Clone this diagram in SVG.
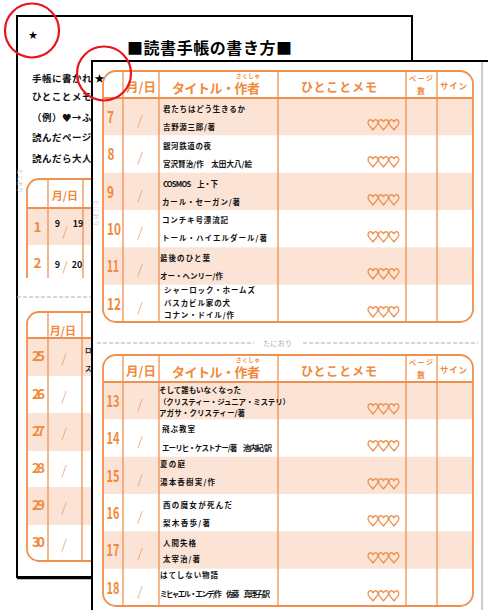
<svg xmlns="http://www.w3.org/2000/svg" width="488" height="610" viewBox="0 0 488 610">
<style>
text{font-family:"Noto Sans CJK JP","Noto Sans",sans-serif}
.pg{fill:#fff;stroke:#000;stroke-width:2}
.ob{fill:none;stroke:#F0904F;stroke-width:1.8}
.ln{fill:none;stroke:#F0904F;stroke-width:1.3}
.sh{fill:#FBE4D6}
.oh{fill:#F08A3C;font-weight:bold}
.num{fill:#F08A3C;font-size:16px;font-weight:bold}
.bnum{fill:#F08A3C;font-size:13.5px;font-weight:bold}
.sl{fill:#F08A3C;font-size:13px;font-weight:300;text-anchor:middle}
.bt{fill:#111;font-weight:bold;font-size:7.5px}
.hr{fill:#F08A3C;stroke:#F08A3C;stroke-width:0.5;font-size:12px}
.red{fill:none;stroke:#E8141C;stroke-width:2.2}
.dash{stroke:#b0b0b0;stroke-width:1;stroke-dasharray:4 2}
.fold{fill:#c4c4c4;font-size:5.5px}
.body{fill:#111;font-weight:bold;font-size:9.5px;letter-spacing:0.5px}
</style>

<g id="back-page">
  <rect class="pg" x="17" y="16" width="395" height="561"/>
  <line x1="17" y1="578.5" x2="92" y2="578.5" stroke="#000" stroke-width="1.5"/>
  <text x="33" y="37.5" font-size="9" text-anchor="middle" fill="#000">★</text>
  <text x="127" y="54" font-size="16" font-weight="bold" fill="#000" textLength="165">■読書手帳の書き方■</text>
  <text class="body" x="32" y="82">手帳に書かれ</text>
  <text class="body" x="32" y="100">ひとことメモ</text>
  <text class="body" x="32" y="121">（例）♥→ふ</text>
  <text class="body" x="32" y="141">読んだページ</text>
  <text class="body" x="32" y="162">読んだら大人</text>
  <text class="fold" transform="translate(18,169) rotate(90)" textLength="24">たにおり</text>

  <g id="back-table-1">
    <rect class="sh" x="27" y="208" width="70" height="37"/>
    <path class="ob" d="M27,278 V191 A12,12 0 0 1 39,179 H100"/>
    <line class="ob" x1="27" y1="208" x2="100" y2="208"/>
    <line class="ln" x1="48" y1="179" x2="48" y2="278"/>
    <line class="ln" x1="83" y1="179" x2="83" y2="278"/>
    <text class="oh" x="65" y="200" font-size="11" text-anchor="middle">月/日</text>
    <text class="bnum" x="37.5" y="232" text-anchor="middle">1</text>
    <text x="57.5" y="227" font-size="9" font-weight="bold" fill="#111" text-anchor="middle">9</text>
    <text class="sl" x="65" y="236" font-size="12">/</text>
    <text x="78" y="227" font-size="9" font-weight="bold" fill="#111" text-anchor="middle">19</text>
    <text class="bnum" x="37.5" y="268" text-anchor="middle">2</text>
    <text x="57.5" y="268" font-size="9" font-weight="bold" fill="#111" text-anchor="middle">9</text>
    <text class="sl" x="65" y="271" font-size="12">/</text>
    <text x="77" y="268" font-size="9" font-weight="bold" fill="#111" text-anchor="middle">20</text>
  </g>
  <line class="dash" x1="17" y1="297" x2="92" y2="297"/>

  <g id="back-table-2">
    <rect class="sh" x="27" y="338" width="70" height="38"/>
    <rect class="sh" x="27" y="413" width="70" height="38"/>
    <rect class="sh" x="27" y="487" width="70" height="38"/>
    <path class="ob" d="M100,312 H39 A12,12 0 0 0 27,324 V549 A12,12 0 0 0 39,561 H100"/>
    <line class="ob" x1="27" y1="338" x2="100" y2="338"/>
    <line class="ln" x1="48" y1="312" x2="48" y2="561"/>
    <line class="ln" x1="82" y1="312" x2="82" y2="561"/>
    <text class="oh" x="63" y="335" font-size="11" text-anchor="middle">月/日</text>
    <text class="bnum" x="38.5" y="361" text-anchor="middle" textLength="13">25</text>
    <text class="bnum" x="38.5" y="398.5" text-anchor="middle" textLength="13">26</text>
    <text class="bnum" x="38.5" y="436" text-anchor="middle" textLength="13">27</text>
    <text class="bnum" x="38.5" y="473" text-anchor="middle" textLength="13">28</text>
    <text class="bnum" x="38.5" y="510" text-anchor="middle" textLength="13">29</text>
    <text class="bnum" x="38.5" y="547" text-anchor="middle" textLength="13">30</text>
    <text class="sl" x="64" y="363" font-size="12">/</text>
    <text class="sl" x="64" y="400.5" font-size="12">/</text>
    <text class="sl" x="64" y="438" font-size="12">/</text>
    <text class="sl" x="64" y="475" font-size="12">/</text>
    <text class="sl" x="64" y="512" font-size="12">/</text>
    <text class="sl" x="64" y="549" font-size="12">/</text>
    <text x="85" y="353" font-size="6.5" font-weight="bold" fill="#111">ロ</text>
    <text x="85" y="371" font-size="6.5" font-weight="bold" fill="#111">ス</text>
  </g>
</g>

<g id="front-page">
  <rect class="pg" x="92" y="61" width="410" height="560"/>
  <line x1="482" y1="62" x2="482" y2="610" stroke="#9a9a9a" stroke-width="1"/>
  <text x="99.5" y="82" font-size="10" text-anchor="middle" fill="#000">★</text>
  <text class="fold" transform="translate(94,200) rotate(90)" textLength="26">たにおり</text>

  <g id="table-1">
    <rect class="sh" x="103" y="98" width="370" height="37.3"/>
    <rect class="sh" x="103" y="172.7" width="370" height="37.3"/>
    <rect class="sh" x="103" y="247.3" width="370" height="37.4"/>
    <rect class="ob" x="103" y="71" width="370" height="251" rx="13"/>
    <line class="ob" x1="103" y1="98" x2="473" y2="98"/>
    <line class="ln" x1="123" y1="71" x2="123" y2="322"/>
    <line class="ln" x1="159" y1="71" x2="159" y2="322"/>
    <line class="ln" x1="278" y1="71" x2="278" y2="322"/>
    <line class="ln" x1="406" y1="71" x2="406" y2="322"/>
    <line class="ln" x1="437" y1="71" x2="437" y2="322"/>
    <text class="oh" x="141" y="92" font-size="12.5" text-anchor="middle">月/日</text>
    <text class="oh" x="236" y="77.5" font-size="5.5" textLength="24">さくしゃ</text>
    <text class="oh" x="172" y="93" font-size="13" textLength="88">タイトル・作者</text>
    <text class="oh" x="301" y="92" font-size="12" textLength="76">ひとことメモ</text>
    <text class="oh" x="409" y="81" font-size="7" textLength="24">ページ</text>
    <text class="oh" x="421" y="93.5" font-size="7.5" text-anchor="middle">数</text>
    <text class="oh" x="440" y="88.5" font-size="8.5" textLength="27">サイン</text>

    <text class="num" x="107" y="122.5" textLength="7" lengthAdjust="spacingAndGlyphs">7</text>
    <text class="num" x="107.5" y="160" textLength="7" lengthAdjust="spacingAndGlyphs">8</text>
    <text class="num" x="107" y="197.5" textLength="7" lengthAdjust="spacingAndGlyphs">9</text>
    <text class="num" x="107" y="234.5" textLength="14" lengthAdjust="spacingAndGlyphs">10</text>
    <text class="num" x="107" y="272" textLength="12" lengthAdjust="spacingAndGlyphs">11</text>
    <text class="num" x="107" y="309.5" textLength="14" lengthAdjust="spacingAndGlyphs">12</text>

    <text class="sl" x="140" y="124.5">/</text>
    <text class="sl" x="140" y="162">/</text>
    <text class="sl" x="140" y="199.5">/</text>
    <text class="sl" x="140" y="236.5">/</text>
    <text class="sl" x="140" y="274">/</text>
    <text class="sl" x="140" y="311.5">/</text>

    <text class="bt" x="163" y="112" textLength="82">君たちはどう生きるか</text>
    <text class="bt" x="163" y="130" font-size="7" textLength="52">吉野源三郎/著</text>
    <text class="bt" x="163" y="149" textLength="48">銀河鉄道の夜</text>
    <text class="bt" x="163" y="167" font-size="6.5" textLength="89">宮沢賢治/作　太田大八/絵</text>
    <text class="bt" x="163" y="187" textLength="55">COSMOS　上・下</text>
    <text class="bt" x="162" y="205" textLength="78">カール・セーガン/著</text>
    <text class="bt" x="162" y="223" textLength="66">コンチキ号漂流記</text>
    <text class="bt" x="162" y="241" textLength="105">トール・ハイエルダール/著</text>
    <text class="bt" x="160" y="261" textLength="50">最後のひと葉</text>
    <text class="bt" x="160" y="279" font-size="6.5" textLength="63">オー・ヘンリー/作</text>
    <text class="bt" x="164" y="293" textLength="91">シャーロック・ホームズ</text>
    <text class="bt" x="164" y="305.5" textLength="66">バスカビル家の犬</text>
    <text class="bt" x="164" y="317.5" textLength="70">コナン・ドイル/作</text>

    <text class="hr" x="367" y="130" textLength="33">♡♡♡</text>
    <text class="hr" x="367" y="167" textLength="33">♡♡♡</text>
    <text class="hr" x="367" y="204.5" textLength="33">♡♡♡</text>
    <text class="hr" x="367" y="242" textLength="33">♡♡♡</text>
    <text class="hr" x="367" y="279" textLength="33">♡♡♡</text>
    <text class="hr" x="367" y="316.5" textLength="33">♡♡♡</text>
  </g>

  <g id="fold-line">
    <line class="dash" x1="97" y1="343" x2="254" y2="343"/>
    <text x="263" y="345.5" font-size="7" fill="#aaa" textLength="29">たにおり</text>
    <line class="dash" x1="303" y1="343" x2="478" y2="343"/>
  </g>

  <g id="table-2">
    <rect class="sh" x="103" y="382" width="370" height="37.3"/>
    <rect class="sh" x="103" y="456.7" width="370" height="37.3"/>
    <rect class="sh" x="103" y="531.3" width="370" height="37.4"/>
    <rect class="ob" x="103" y="355" width="370" height="251" rx="13"/>
    <line class="ob" x1="103" y1="382" x2="473" y2="382"/>
    <line class="ln" x1="123" y1="355" x2="123" y2="606"/>
    <line class="ln" x1="159" y1="355" x2="159" y2="606"/>
    <line class="ln" x1="278" y1="355" x2="278" y2="606"/>
    <line class="ln" x1="406" y1="355" x2="406" y2="606"/>
    <line class="ln" x1="437" y1="355" x2="437" y2="606"/>
    <text class="oh" x="141" y="376" font-size="12.5" text-anchor="middle">月/日</text>
    <text class="oh" x="236" y="361.5" font-size="5.5" textLength="24">さくしゃ</text>
    <text class="oh" x="172" y="377" font-size="13" textLength="88">タイトル・作者</text>
    <text class="oh" x="301" y="376" font-size="12" textLength="76">ひとことメモ</text>
    <text class="oh" x="409" y="365" font-size="7" textLength="24">ページ</text>
    <text class="oh" x="421" y="377.5" font-size="7.5" text-anchor="middle">数</text>
    <text class="oh" x="440" y="372.5" font-size="8.5" textLength="27">サイン</text>

    <text class="num" x="106.5" y="406.5" textLength="13" lengthAdjust="spacingAndGlyphs">13</text>
    <text class="num" x="106.5" y="444" textLength="13" lengthAdjust="spacingAndGlyphs">14</text>
    <text class="num" x="106.5" y="481.5" textLength="13" lengthAdjust="spacingAndGlyphs">15</text>
    <text class="num" x="106.5" y="518.5" textLength="13" lengthAdjust="spacingAndGlyphs">16</text>
    <text class="num" x="106.5" y="556" textLength="13" lengthAdjust="spacingAndGlyphs">17</text>
    <text class="num" x="106.5" y="593.5" textLength="13" lengthAdjust="spacingAndGlyphs">18</text>

    <text class="sl" x="140" y="408.5">/</text>
    <text class="sl" x="140" y="446">/</text>
    <text class="sl" x="140" y="483.5">/</text>
    <text class="sl" x="140" y="520.5">/</text>
    <text class="sl" x="140" y="558">/</text>
    <text class="sl" x="140" y="595.5">/</text>

    <text class="bt" x="159" y="393" font-size="7" textLength="82">そして誰もいなくなった</text>
    <text class="bt" x="159" y="404.5" font-size="7" textLength="131">（クリスティー・ジュニア・ミステリ）</text>
    <text class="bt" x="159" y="416" font-size="7" textLength="86">アガサ・クリスティー/著</text>
    <text class="bt" x="162" y="432" textLength="33">飛ぶ教室</text>
    <text class="bt" x="162" y="451" font-size="6" textLength="110">エーリヒ・ケストナー/著　池内紀/訳</text>
    <text class="bt" x="160" y="467" textLength="25">夏の庭</text>
    <text class="bt" x="160" y="485" textLength="55">湯本香樹実/作</text>
    <text class="bt" x="163" y="508" textLength="69">西の魔女が死んだ</text>
    <text class="bt" x="163" y="526" textLength="47">梨木香歩/著</text>
    <text class="bt" x="163" y="545.5" textLength="33">人間失格</text>
    <text class="bt" x="163" y="561.5" textLength="37">太宰治/著</text>
    <text class="bt" x="160" y="578" textLength="58">はてしない物語</text>
    <text class="bt" x="160" y="596.5" font-size="5" textLength="110">ミヒャエル・エンデ/作　佐藤　真理子/訳</text>

    <text class="hr" x="367" y="414" textLength="33">♡♡♡</text>
    <text class="hr" x="367" y="451" textLength="33">♡♡♡</text>
    <text class="hr" x="367" y="488.5" textLength="33">♡♡♡</text>
    <text class="hr" x="367" y="526" textLength="33">♡♡♡</text>
    <text class="hr" x="367" y="563" textLength="33">♡♡♡</text>
    <text class="hr" x="367" y="600.5" textLength="33">♡♡♡</text>
  </g>
</g>

<g id="annotations">
  <circle class="red" cx="32" cy="30.5" r="27"/>
  <circle class="red" cx="104" cy="73.5" r="27"/>
</g>
</svg>
